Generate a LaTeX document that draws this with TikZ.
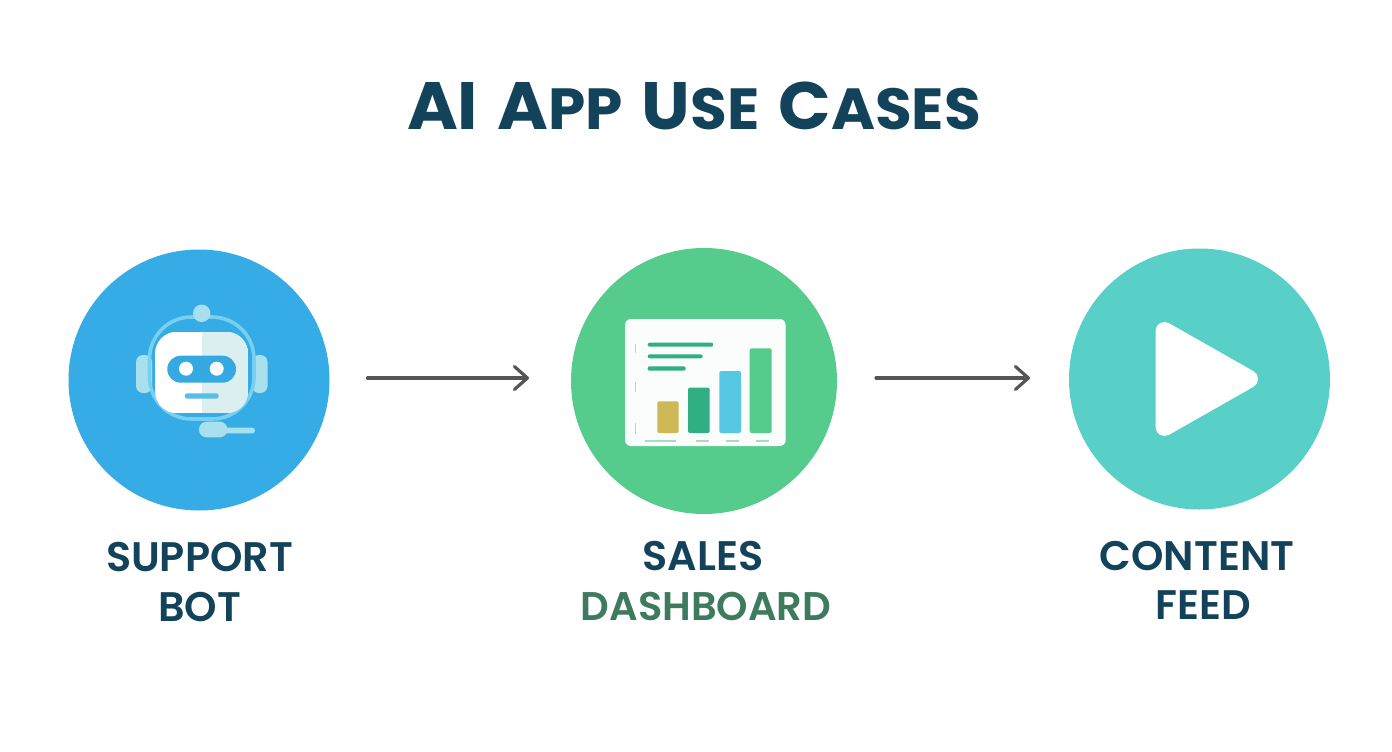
\documentclass[tikz,border=0pt]{standalone}
\usepackage{fontspec}
\setmainfont{Poppins}
\newfontfamily\heavyfont{Poppins SemiBold}
\newfontfamily\titlefont[FakeStretch=1.03]{Poppins Bold}
\usetikzlibrary{arrows.meta}
\definecolor{ink}{HTML}{12435A}
\definecolor{dashgreen}{HTML}{3E7A5E}
\definecolor{cblue}{HTML}{36ACE6}
\definecolor{cgreen}{HTML}{55CB8C}
\definecolor{cteal}{HTML}{58D0C8}
\definecolor{paleblue}{HTML}{A9E0EE}
\definecolor{ringblue}{HTML}{78D0F0}
\definecolor{faceshade}{HTML}{DCEFF0}
\definecolor{bandblue}{HTML}{35A9E2}
\definecolor{mouthblue}{HTML}{58BDE8}
\definecolor{barteal}{HTML}{2FAF82}
\definecolor{baryellow}{HTML}{CFB956}
\definecolor{barsky}{HTML}{56C8E3}
\definecolor{paletick}{HTML}{A8DDC4}
\definecolor{cardwhite}{HTML}{FBFDFC}
\definecolor{arrowgrey}{HTML}{555555}
\newcommand{\tlarge}[1]{{\fontsize{67}{67}\selectfont #1}}
\newcommand{\tsmall}[1]{{\fontsize{58}{58}\selectfont #1}}
\tikzset{
  disc/.style={circle,inner sep=0pt,outer sep=0pt,minimum size=#1},
  flow/.style={draw=arrowgrey,line width=3.2pt,line cap=round,line join=round,
    -{Straight Barb[length=13pt,width=23pt,line width=3.2pt,round]}},
  lab/.style={anchor=base,inner sep=0pt,font=\heavyfont\fontsize{41.3}{41.3}\selectfont,text=ink},
  bar/.style={rounded corners=2pt}
}
\begin{document}
\begin{tikzpicture}[x=1pt,y=-1pt]
\useasboundingbox (0,0) rectangle (1392,752);
\fill[white] (0,0) rectangle (1392,752);
% title
\node[anchor=base,inner sep=0pt,text=ink,font=\titlefont] (title) at (694,129)
  {\tlarge{AI}\hspace{19pt}\tlarge{A}\tsmall{PP}\hspace{19pt}\tlarge{U}\tsmall{SE}\hspace{19pt}\tlarge{C}\tsmall{ASES}};
% circles
\node[disc=261pt,fill=cblue] (a) at (199,380) {};
\node[disc=266pt,fill=cgreen] (b) at (704,381) {};
\node[disc=261pt,fill=cteal] (c) at (1199.5,379) {};
% connectors
\draw[flow] ([xshift=38pt,yshift=2pt]a.east) -- ([xshift=-42pt,yshift=3pt]b.west);
\draw[flow] ([xshift=39pt,yshift=3pt]b.east) -- ([xshift=-39pt,yshift=1pt]c.west);
% robot
\fill[paleblue,rounded corners=7pt] (136,355) rectangle (152,393);
\fill[paleblue,rounded corners=7pt] (252,355) rectangle (267.5,393);
\draw[ringblue,line width=3.6pt,rounded corners=42pt] (149.5,317) rectangle (254,419);
\fill[paleblue] (201.7,313.3) circle [radius=8.7];
\begin{scope}
  \clip[rounded corners=22pt] (155,331.7) rectangle (248.3,413.3);
  \fill[white] (155,331.7) rectangle (201.7,413.3);
  \fill[faceshade] (201.7,331.7) rectangle (248.3,413.3);
\end{scope}
\fill[bandblue,rounded corners=13.4pt] (167.3,355.7) rectangle (236,382.7);
\fill[white] (186,368.7) circle [radius=7];
\fill[white] (216.7,368.7) circle [radius=7];
\fill[mouthblue,rounded corners=2.6pt] (184.7,393.3) rectangle (218.7,398.7);
\fill[paleblue,rounded corners=2.7pt] (222,427.7) rectangle (255,433.3);
\fill[paleblue,rounded corners=7.5pt] (199,421.7) rectangle (227.3,437.3);
% dashboard
\fill[cardwhite,rounded corners=6pt] (625,319) rectangle (785.7,446);
\fill[barteal,rounded corners=2pt] (647.7,342.7) rectangle (713.3,346.7);
\fill[barteal,rounded corners=2pt] (647.7,354.3) rectangle (702.7,358.3);
\fill[barteal,rounded corners=2pt] (647.7,366.3) rectangle (685.7,370.7);
\fill[bar,baryellow] (657.3,401.3) rectangle (678.7,433);
\fill[bar,barteal] (688,387.7) rectangle (709.7,433);
\fill[bar,barsky] (719.3,371) rectangle (741,433);
\fill[bar,cgreen] (749.7,348.3) rectangle (771.7,433);
\draw[paletick,line width=1.5pt] (635.3,344) -- (635.3,353) (635.3,382) -- (635.3,392) (635.3,423) -- (635.3,434);
\draw[paletick,line width=2pt] (645,440.7) -- (675.7,440.7) (696,440.7) -- (708.7,440.7) (725.7,440.7) -- (739.3,440.7) (755.7,440.7) -- (769.3,440.7);
% play
\fill[white,draw=white,line width=18pt,line join=round] (1164.5,331) -- (1249,379) -- (1164.5,427) -- cycle;
% labels
\node[lab] (l1) at (199.5,571) {SUPPORT};
\node[lab] (l2) at (199.5,621) {BOT};
\node[lab] (l3) at (703,570) {SALES};
\node[lab,text=dashgreen,font=\heavyfont\fontsize{40}{40}\selectfont] (l4) at (706,620) {DASHBOARD};
\node[lab] (l5) at (1197,570) {CONTENT};
\node[lab] (l6) at (1203,619) {FEED};
\end{tikzpicture}
\end{document}
